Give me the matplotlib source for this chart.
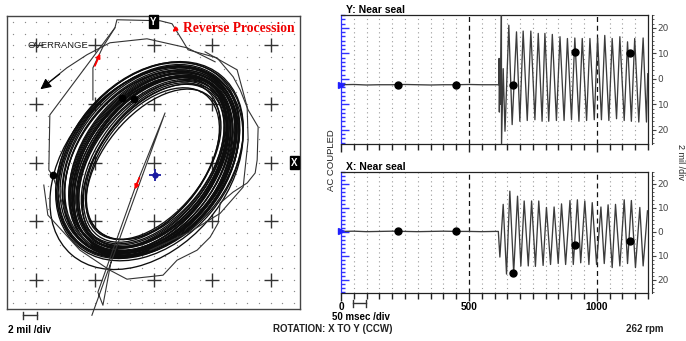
import numpy as np
import matplotlib
matplotlib.use("Agg")
import matplotlib.pyplot as plt
from matplotlib.patches import Ellipse
from matplotlib.ticker import MultipleLocator, FuncFormatter, FixedLocator
from matplotlib.lines import Line2D

# ---------------- data ----------------
# Y probe waveform (time ms, value)
y_time = [0, 50, 100, 150, 200, 250, 300, 350, 400, 450, 500, 550, 600, 617,
          618, 619, 621, 623, 627, 627.5, 634, 641, 656, 669, 686, 699, 712, 728,
          742, 758, 771, 786, 797, 812, 826, 842, 856, 872, 885, 901, 914, 930,
          943, 960, 973, 990, 1003, 1018, 1031, 1047, 1060, 1077, 1090, 1107,
          1120, 1135, 1148, 1164, 1181, 1194, 1199]
y_vals = [-2.3, -2.2, -2.4, -2.3, -2.3, -2.2, -2.3, -2.4, -2.3, -2.3, -2.2, -2.3, -2.3, -2.3,
          8.0, -13.0, 6.0, -10.0, 25.0, -25.5, 4.0, -20.5, 21.0, -17.9, 18.4, -16.6, 18.7, -16.3,
          18.7, -16.0, 17.8, -16.6, 17.8, -16.6, 17.4, -16.3, 16.5, -16.3, 15.8, -16.0, 16.0, -16.6,
          15.8, -16.3, 15.8, -16.0, 16.0, -16.0, 17.0, -16.3, 15.8, -15.6, 16.5, -16.3,
          14.5, -16.6, 15.8, -16.9, 16.0, -16.9, 2.0]

# X probe waveform (time ms, value)
x_time = [0, 50, 100, 150, 200, 250, 300, 350, 400, 450, 500, 550, 600, 615,
          621, 634, 647, 660, 675, 690, 703, 716, 732, 745, 760, 773, 790, 803,
          819, 833, 849, 862, 878, 895, 908, 924, 937, 953, 969, 982, 999, 1016,
          1029, 1044, 1060, 1073, 1090, 1107, 1120, 1135, 1151, 1168, 1181, 1198]
x_vals = [0.2, 0.3, 0.1, 0.2, 0.3, 0.2, 0.1, 0.2, 0.3, 0.2, 0.2, 0.1, 0.2, 0.2,
          -10.5, 11.5, -17.6, 17.0, -17.0, 14.9, -14.2, 12.9, -14.2, 12.9, -14.4, 12.9, -14.0, 10.2,
          -13.6, 10.4, -13.2, 11.7, -13.6, 13.1, -13.6, 13.4, -12.9, 12.9, -13.6, 12.2, -13.6, 10.4,
          -13.2, 11.3, -14.9, 11.5, -14.2, 13.4, -13.2, 13.1, -14.9, 10.2, -14.2, 8.8]

# Keyphasor dots on the waveforms
kp_time = [224, 449, 673, 914, 1129]
kp_y = [-2.3, -2.3, -2.4, 10.4, 10.0]
kp_x = [0.3, 0.3, -17.3, -5.4, -3.7]

# Orbit: steady-state whirl loops (centre x, centre y, major axis, minor axis, tilt deg)
loop_cx = [0.27, -0.93, -0.09, -0.31, -0.60, -0.70, -0.29, -0.10, -0.37, -0.47,
           -0.08, -0.53, -0.79, -0.26, -0.53, -0.45, 0.13, -0.54, -0.47, -0.27,
           -0.82, -0.02, -0.18, -0.83, -0.35, -0.28, 0.09, -0.67, -0.22, -1.01,
           -0.10, 0.20, -0.30, 0.00, -1.20]
loop_cy = [-0.50, 0.57, 0.02, -0.12, 0.02, 0.14, 0.04, -0.32, 0.09, 0.32,
           -0.32, -0.02, 0.14, 0.35, -0.34, 0.33, -0.17, -0.35, 0.50, 0.11,
           -0.10, 0.12, -0.40, 0.39, 0.01, -0.14, -0.06, 0.44, -0.16, -0.04,
           -0.20, 0.10, 0.00, -0.30, -1.00]
loop_w = [32.0, 37.2, 33.2, 35.6, 33.8, 37.8, 32.4, 34.8, 33.6, 36.4,
          34.2, 32.8, 36.8, 34.6, 33.4, 35.4, 32.2, 34.0, 37.4, 33.0,
          35.2, 34.4, 33.8, 36.0, 31.8, 35.0, 33.2, 35.8, 34.0, 36.6,
          29.6, 30.4, 31.0, 30.0, 39.0]
loop_h = [19.2, 26.4, 20.8, 25.2, 22.0, 27.2, 19.8, 24.0, 21.6, 25.8,
          22.8, 20.2, 26.0, 23.6, 21.2, 24.6, 19.6, 22.4, 26.8, 20.6,
          24.2, 23.2, 21.8, 25.4, 19.4, 23.8, 21.0, 24.8, 22.2, 26.2,
          17.6, 18.4, 18.0, 17.0, 27.5]
loop_ang = [52, 50, 53, 51, 54, 50, 52, 53, 51, 52, 55, 53, 50, 52, 54,
            51, 53, 52, 50, 54, 52, 51, 53, 50, 52, 53, 55, 51, 52, 50,
            53, 52, 54, 51, 49]

# Orbit: transient traces
spike_x = [-10.51, 1.97, -3.16, -9.49, -8.63, -7.26]
spike_y = [-26.07, 8.46, -4.36, -22.14, -24.36, -17.01]
top_x = [-10.34, -10.34, -8.63, -6.58, -6.24, 1.11, 3.16, 4.87, 5.90, 10.85, 13.59,
         14.79, 16.15, 17.86, 17.69, 17.35, 15.98, 13.59, 11.37, 11.03, 9.66, 7.44,
         4.02, 1.62, -4.53, -7.44, -12.56, -18.03, -18.72]
top_y = [10.68, 16.15, 19.74, 22.99, 24.36, 24.19, 23.68, 20.94, 19.23, 17.86, 14.62,
         12.39, 8.97, 6.07, 0.43, -1.79, -3.50, -5.04, -6.92, -10.34, -12.74, -14.96,
         -16.67, -19.23, -19.91, -18.38, -14.96, -8.97, -3.85]
over_x = [10.51, 5.73, -1.11, -7.44, -11.37, -14.79, -19.06]
over_y = [17.18, 19.57, 21.11, 20.43, 18.38, 16.15, 12.74]
left_x = [-6.58, -17.69, -17.86, -17.18, -15.98, -13.93, -10.85]
left_y = [22.99, 8.12, -1.28, -2.31, -5.90, -10.68, -14.10]
mid_x = [8.80, 14.27, 15.98, 16.15, 15.30, 11.37, 6.24, -0.60]
mid_y = [18.89, 15.81, 9.49, 3.85, -4.19, -8.68, -11.83, -14.96]

orbit_kp_x = [-17.2, -5.4, -3.3]
orbit_kp_y = [-2.1, 11.0, 10.8]
start_pt = (0.26, -2.1)

# direction arrows (tail -> tip)
red_arrows = [((-10.0, 16.5), (-9.1, 18.6)),
              ((4.0, 22.9), (3.2, 22.3)),
              ((-2.4, -2.6), (-3.2, -4.6))]
black_arrow = ((-16.0, 15.1), (-19.3, 12.5))

# ---------------- figure ----------------
W, H = 686, 341
fig = plt.figure(figsize=(6.86, 3.41), dpi=100)
SANS = "Liberation Sans"


def fx(px):
    return px / W


def fy(py):
    return 1 - py / H


# ---- orbit ----
ax = fig.add_axes([fx(7), fy(309), (300 - 7) / W, (309 - 16) / H])
ax.set_xlim(-25, 25)
ax.set_ylim(-25, 25)
ax.set_xticks([])
ax.set_yticks([])
for s in ax.spines.values():
    s.set_color("#444444")
    s.set_linewidth(1.0)

gv = np.arange(-24, 25, 2)
gx, gy = np.meshgrid(gv, gv)
mask = ~((gx % 10 == 0) & (gy % 10 == 0))
ax.scatter(gx[mask], gy[mask], s=0.9, c="#8a8a8a", lw=0, zorder=1)
for cxv in [-20, -10, 0, 10, 20]:
    for cyv in [-20, -10, 0, 10, 20]:
        ax.plot(cxv, cyv, marker="+", ms=10, mew=1.0, color="#333333", zorder=1)

for cx, cy, w, h, a in zip(loop_cx, loop_cy, loop_w, loop_h, loop_ang):
    ax.add_patch(Ellipse((cx, cy), w, h, angle=a, fill=False,
                         ec="#0d0d0d", lw=0.95, zorder=3))

tr_kw = dict(color="#333333", lw=0.8, zorder=3)
ax.plot(spike_x, spike_y, clip_on=False, **tr_kw)
ax.plot(top_x, top_y, **tr_kw)
ax.plot(over_x, over_y, **tr_kw)
ax.plot(left_x, left_y, **tr_kw)
ax.plot(mid_x, mid_y, **tr_kw)

ax.plot(orbit_kp_x, orbit_kp_y, "o", color="black", ms=4.5, zorder=5)
ax.plot(*start_pt, marker="+", ms=9, mew=1.3, color="#1a1aa0", zorder=6)
ax.plot(*start_pt, marker="o", ms=3.5, color="#1a1aa0", zorder=6)

for tail, tip in red_arrows:
    ax.annotate("", xy=tip, xytext=tail,
                arrowprops=dict(arrowstyle="-|>", color="red", lw=1.3,
                                mutation_scale=6, shrinkA=0, shrinkB=0), zorder=7)
ax.annotate("", xy=black_arrow[1], xytext=black_arrow[0],
            arrowprops=dict(arrowstyle="-|>", color="black", lw=0.8,
                            mutation_scale=16, shrinkA=0, shrinkB=0), zorder=7)

ax.text(0.5, 0.981, "Y", transform=ax.transAxes, ha="center", va="center",
        color="white", fontsize=7, fontweight="bold", family=SANS, zorder=8,
        bbox=dict(boxstyle="square,pad=0.15", fc="black", ec="black"))
ax.text(0.981, 0.5, "X", transform=ax.transAxes, ha="center", va="center",
        color="white", fontsize=7, fontweight="bold", family=SANS, zorder=8,
        bbox=dict(boxstyle="square,pad=0.15", fc="black", ec="black"))
fig.text(fx(28), fy(45), "OVERRANGE", ha="left", va="center", fontsize=6.8,
         family=SANS, color="#222222")
fig.text(fx(183), fy(28), "Reverse Procession", ha="left", va="center",
         fontsize=9.8, fontweight="bold", family="Liberation Serif", color="#ee0000")


# ---- time panels ----
def panel(top, bottom, t, v, kpv, title, show_labels):
    a = fig.add_axes([fx(341), fy(bottom), (648 - 341) / W, (bottom - top) / H])
    a.set_xlim(0, 1200)
    a.set_ylim(-25.5, 25)
    for s in a.spines.values():
        s.set_color("#222222")
        s.set_linewidth(0.9)
    a.spines["left"].set_color("#3030ff")
    for g in range(50, 1200, 50):
        if g % 500 == 0:
            a.axvline(g, color="#111111", lw=0.9, ls=(0, (4, 3)), zorder=1)
        else:
            a.axvline(g, color="#9a9a9a", lw=0.8, ls=(0, (1, 3)), zorder=1)
    a.plot(t, v, color="#3c3c3c", lw=0.95, zorder=3)
    a.plot(kp_time, kpv, "o", color="black", ms=5, zorder=5)
    a.plot(0, v[0], marker=">", color="#2020ff", ms=4, clip_on=False, zorder=6)
    # left blue ticks
    a.yaxis.set_major_locator(MultipleLocator(10))
    a.yaxis.set_minor_locator(MultipleLocator(10 / 6))
    a.tick_params(axis="y", which="major", direction="in", length=6, color="#3030ff",
                  labelleft=False, width=1)
    a.tick_params(axis="y", which="minor", direction="in", length=3, color="#3030ff", width=1)
    # bottom ticks
    a.xaxis.set_major_locator(FixedLocator([0, 500, 1000]))
    a.xaxis.set_minor_locator(MultipleLocator(50))
    a.tick_params(axis="x", which="major", direction="out", length=6, width=1,
                  color="#222222", labelbottom=show_labels, labelsize=7.3, pad=0.5)
    a.tick_params(axis="x", which="minor", direction="out", length=4, width=1, color="#222222")
    if show_labels:
        for lab in a.get_xticklabels():
            lab.set_fontweight("bold")
            lab.set_family(SANS)
    # right axis
    r = a.twinx()
    r.set_ylim(a.get_ylim())
    for k in ["left", "top", "bottom"]:
        r.spines[k].set_visible(False)
    r.spines["right"].set_position(("outward", 3))
    r.spines["right"].set_color("#333333")
    r.yaxis.set_major_locator(MultipleLocator(10))
    r.yaxis.set_minor_locator(MultipleLocator(10 / 6))
    r.yaxis.set_major_formatter(FuncFormatter(lambda val, p: f"{abs(int(round(val)))}"))
    r.tick_params(axis="y", which="major", direction="out", length=3, labelsize=6.5,
                  colors="#444444", pad=1)
    r.tick_params(axis="y", which="minor", direction="out", length=1.5, color="#444444")
    fig.text(fx(346), fy(top - 5), title, ha="left", va="center", fontsize=7.5,
             fontweight="bold", family=SANS)
    return a


panel(15, 144, y_time, y_vals, kp_y, "Y: Near seal", False)
panel(172, 293, x_time, x_vals, kp_x, "X: Near seal", True)

# ---- annotations ----
fig.text(fx(332), fy(160), "AC COUPLED", rotation=90, ha="center", va="center",
         fontsize=6.8, family=SANS, color="#222222")
fig.text(fx(681), fy(162), "2 mil /div", rotation=-90, ha="center", va="center",
         fontsize=6.5, family=SANS, color="#222222")
fig.text(fx(8), fy(330), "2 mil /div", ha="left", va="center", fontsize=7.2,
         fontweight="bold", family=SANS)
fig.text(fx(332), fy(316.5), "50 msec /div", ha="left", va="center", fontsize=7.0,
         fontweight="bold", family=SANS)
fig.text(fx(333), fy(329), "ROTATION: X TO Y (CCW)", ha="center", va="center",
         fontsize=7, fontweight="bold", family=SANS, color="#222222")
fig.text(fx(645), fy(329), "262 rpm", ha="center", va="center", fontsize=7,
         fontweight="bold", family=SANS, color="#222222")


def scalebar(x0, x1, yc):
    kw = dict(transform=fig.transFigure, color="#333333", lw=1)
    fig.add_artist(Line2D([fx(x0), fx(x1)], [fy(yc), fy(yc)], **kw))
    fig.add_artist(Line2D([fx(x0), fx(x0)], [fy(yc - 3.5), fy(yc + 3.5)], **kw))
    fig.add_artist(Line2D([fx(x1), fx(x1)], [fy(yc - 3.5), fy(yc + 3.5)], **kw))


scalebar(23.5, 36.5, 315)
scalebar(353, 366, 303)

fig.savefig("out.png", dpi=100)
